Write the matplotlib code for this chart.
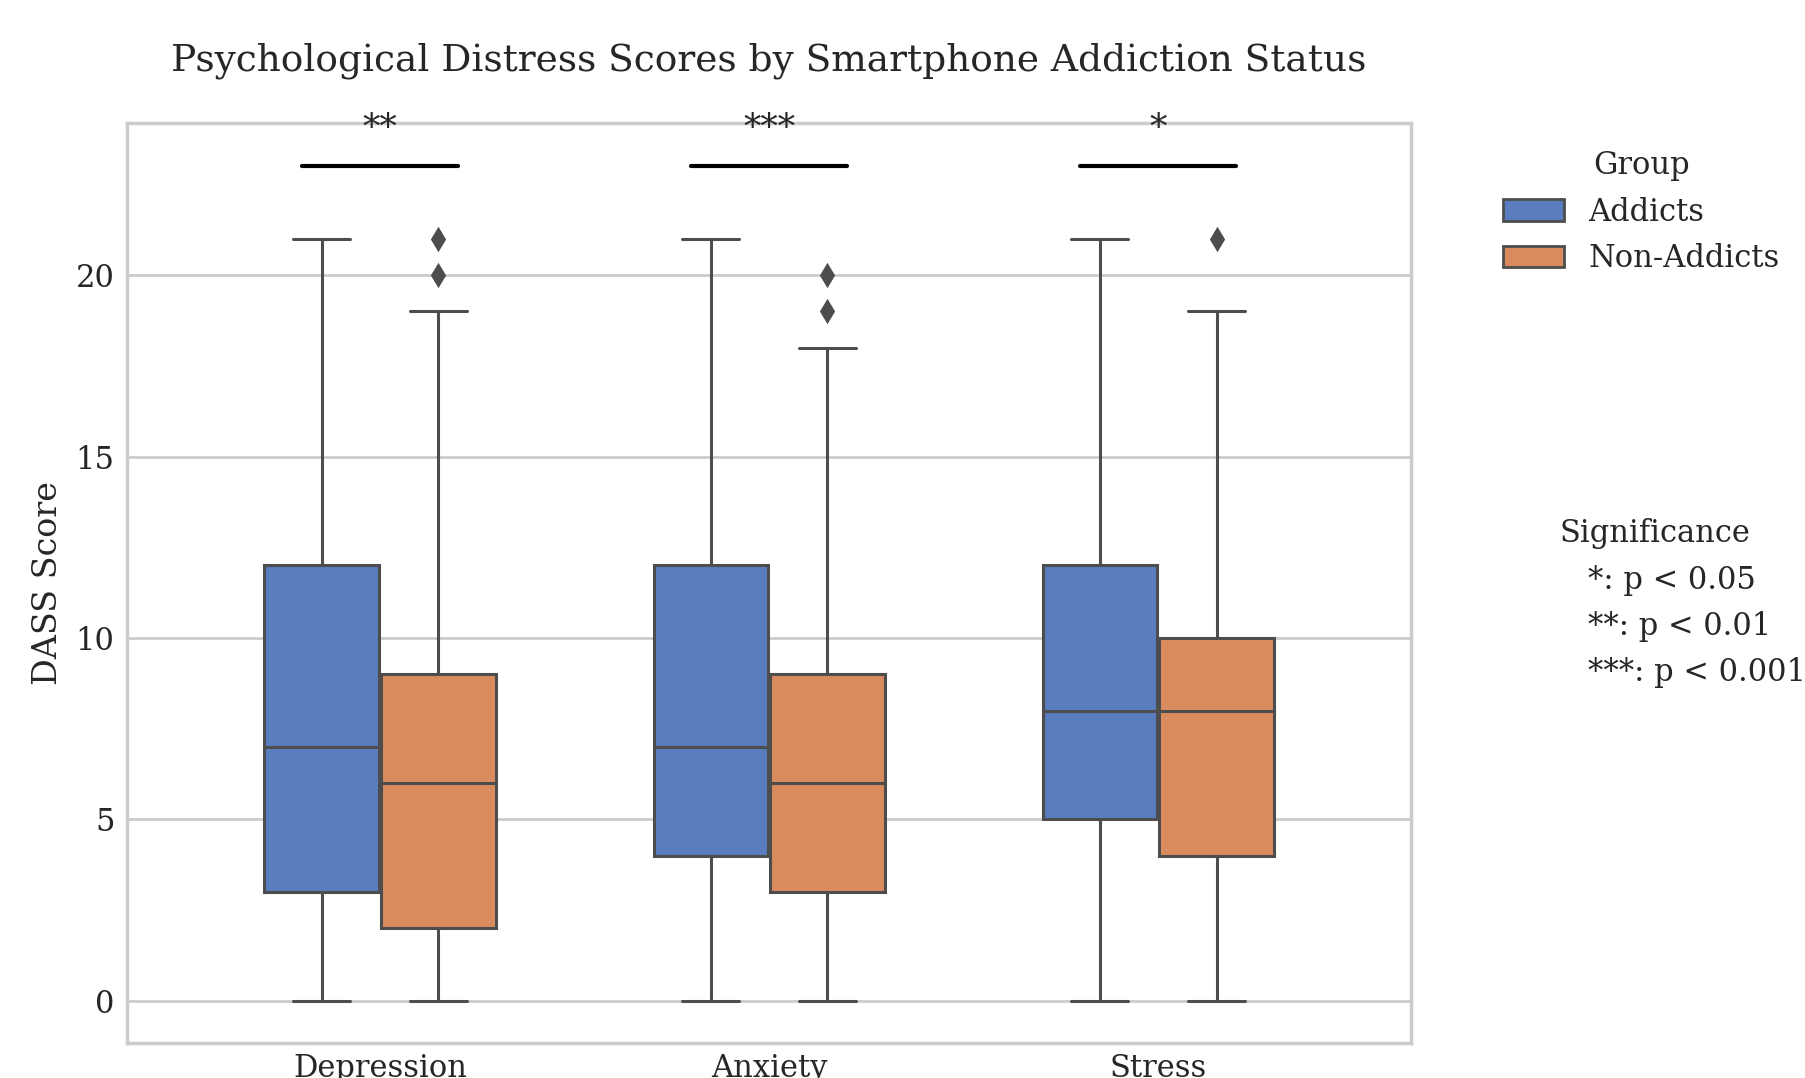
import matplotlib
matplotlib.use('Agg')
import matplotlib.pyplot as plt
from matplotlib.patches import Patch
from matplotlib.lines import Line2D
import seaborn as sns

measures = ['Depression', 'Anxiety', 'Stress']
groups = ['Addicts', 'Non-Addicts']

# five-number summaries: whislo, q1, median, q3, whishi
addicts_stats = [[0, 3, 7, 12, 21], [0, 4, 7, 12, 21], [0, 5, 8, 12, 21]]
non_addicts_stats = [[0, 2, 6, 9, 19], [0, 3, 6, 9, 18], [0, 4, 8, 10, 19]]
addicts_fliers = [[], [], []]
non_addicts_fliers = [[20, 21], [19, 20], [21]]
stars = ['**', '***', '*']
sig_labels = ['*: p < 0.05', '**: p < 0.01', '***: p < 0.001']

sns.set_theme(style='whitegrid')
plt.rcParams['font.family'] = ['DejaVu Serif']

colors = [sns.desaturate(c, .75) for c in sns.color_palette('muted', 2)]
gray = (0.3, 0.3, 0.3)

fig = plt.figure(figsize=(9.025, 5.39), dpi=200)
ax = fig.add_axes([0.0704, 0.0325, 0.7114, 0.8534])

for gi, (stats, fliers) in enumerate([(addicts_stats, addicts_fliers),
                                      (non_addicts_stats, non_addicts_fliers)]):
    bstats = [dict(whislo=s[0], q1=s[1], med=s[2], q3=s[3], whishi=s[4], fliers=f)
              for s, f in zip(stats, fliers)]
    pos = [i - 0.15 + 0.3 * gi for i in range(len(measures))]
    ax.bxp(bstats, positions=pos, widths=0.294, capwidths=0.147,
           patch_artist=True, manage_ticks=False,
           boxprops=dict(facecolor=colors[gi], edgecolor=gray, linewidth=1.1),
           medianprops=dict(color=gray, linewidth=1.1),
           whiskerprops=dict(color=gray, linewidth=1.1),
           capprops=dict(color=gray, linewidth=1.1),
           flierprops=dict(marker='d', markerfacecolor=gray, markeredgecolor=gray,
                           markersize=5, linestyle='none'))

# significance brackets
for i, s in enumerate(stars):
    ax.plot([i - 0.2, i + 0.2], [23, 23], color='black', linewidth=1.5)
    ax.text(i, 23.55, s, ha='center', va='bottom', fontsize=12.5)

ax.set_xticks(range(len(measures)))
ax.set_xticklabels(measures, fontsize=11)
ax.set_yticks([0, 5, 10, 15, 20])
ax.tick_params(axis='y', labelsize=11, length=0, pad=4.5)
ax.tick_params(axis='x', length=0, pad=3.5)
ax.set_xlim(-0.65, 2.65)
ax.set_ylim(-1.16, 24.19)
ax.xaxis.grid(False)
ax.set_ylabel('DASS Score', fontsize=12)
ax.set_title('Psychological Distress Scores by Smartphone Addiction Status',
             fontsize=13.5, pad=19)

handles = [Patch(facecolor=colors[i], edgecolor=gray, label=g) for i, g in enumerate(groups)]
leg1 = ax.legend(handles=handles, title='Group', loc='upper left',
                 bbox_to_anchor=(1.05, 1), frameon=False, fontsize=11, title_fontsize=11)
ax.add_artist(leg1)
sig_handles = [Line2D([], [], color='none', label=l) for l in sig_labels]
ax.legend(handles=sig_handles, title='Significance', loc='upper left',
          bbox_to_anchor=(1.05, 0.6), frameon=False, fontsize=11, title_fontsize=11)

fig.savefig('out.png', dpi=200)
